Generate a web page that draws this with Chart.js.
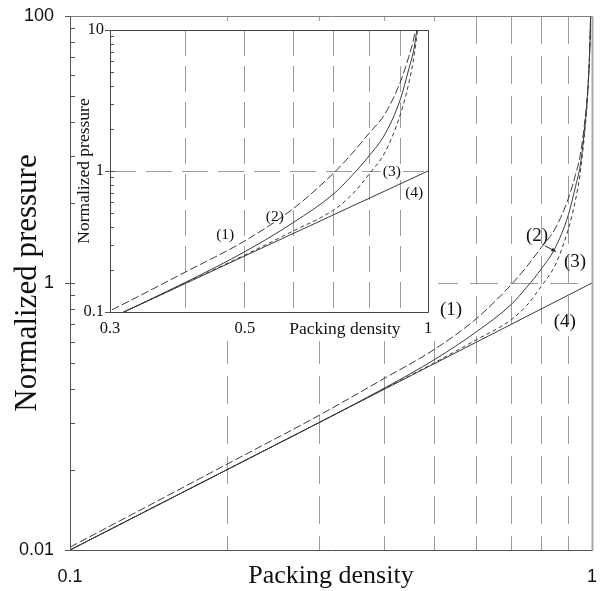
<!DOCTYPE html>
<html>
<head>
<meta charset="utf-8">
<script src="https://cdn.jsdelivr.net/npm/chart.js@4.4.0/dist/chart.umd.min.js"></script>
<style>
  html, body { margin: 0; padding: 0; background: #fff; }
  #wrap { position: relative; width: 603px; height: 591px; overflow: hidden; }
  #mainChart { position: absolute; left: 0; top: 0; }
  #insetBox { position: absolute; left: 75px; top: 21px; width: 363px; height: 320px; background: #fff; }
</style>
</head>
<body>
<div id="wrap">
  <canvas id="mainChart" width="603" height="591"></canvas>
  <div id="insetBox"><canvas id="insetChart" width="363" height="320"></canvas></div>
</div>
<script>
// packing density samples and the normalized pressure of each model
const density = [0.1, 0.2, 0.3, 0.4, 0.5, 0.6, 0.7, 0.75, 0.8, 0.85, 0.9, 0.93, 0.95, 0.97, 0.98, 0.99, 0.994];
const pressure1 = [0.0105, 0.044, 0.102, 0.193, 0.32, 0.54, 0.97, 1.33, 1.85, 2.55, 4.25, 6.5, 9.2, 17, 26, 57, 100];
const pressure2 = [0.01, 0.04, 0.09, 0.163, 0.268, 0.43, 0.69, 0.93, 1.28, 1.83, 3.2, 5.3, 7.7, 15.5, 25, 55, 100];
const pressure3 = [0.01, 0.04, 0.09, 0.161, 0.254, 0.375, 0.53, 0.68, 0.95, 1.36, 2.5, 4.2, 6.8, 14.5, 24, 54, 100];
const idealDensity = [0.1, 0.3, 0.5, 1];
const idealPressure = [0.01, 0.09, 0.25, 1];

// axis ticks
const mainXTicks = [0.1, 0.2, 0.3, 0.4, 0.5, 0.6, 0.7, 0.8, 0.9, 1];
const mainXLabels = [0.1, 1];
const mainYTicks = [0.01, 0.04, 0.09, 0.16, 0.25, 0.36, 0.49, 0.64, 0.81, 1, 4, 9, 16, 25, 36, 49, 64, 81, 100];
const mainYLabels = [0.01, 1, 100];
const insetXTicks = [0.3, 0.4, 0.5, 0.6, 0.7, 0.8, 0.9, 1];
const insetXLabels = [0.3, 0.5, 1];
const insetYTicks = [0.1, 0.2, 0.3, 0.4, 0.5, 0.6, 0.7, 0.8, 0.9, 1, 2, 3, 4, 5, 6, 7, 8, 9, 10];
const insetYLabels = [0.1, 1, 10];

const SERIF = '"Liberation Serif", "Times New Roman", serif';
const SANS = '"Liberation Sans", Arial, sans-serif';
const INK = '#111';
const GRID = '#9c9c9c';
const NONE = 'rgba(0,0,0,0)';

function curves() {
  const pts = (xs, ys) => xs.map((x, i) => ({ x: x, y: ys[i] }));
  return [
    { data: pts(density, pressure1), borderDash: [8, 3] },
    { data: pts(density, pressure2) },
    { data: pts(density, pressure3), borderDash: [4, 3] },
    { data: pts(idealDensity, idealPressure) }
  ].map(d => Object.assign({
    borderColor: '#3a3a3a',
    borderWidth: 1,
    pointRadius: 0,
    fill: false,
    cubicInterpolationMode: 'monotone'
  }, d));
}

// axis frame and inward tick marks on the y axis
const frame = {
  id: 'frame',
  afterDraw(chart, args, o) {
    const { ctx, chartArea: a, scales } = chart;
    ctx.save();
    ctx.strokeStyle = o.tickColor;
    ctx.lineWidth = 1;
    scales.y.ticks.forEach(t => {
      const y = Math.round(scales.y.getPixelForValue(t.value)) + 0.5;
      const major = o.majorY.includes(t.value);
      ctx.beginPath();
      ctx.moveTo(a.left - (major ? o.majorOut : 0), y);
      ctx.lineTo(a.left + (major ? o.majorIn : o.minorIn), y);
      ctx.stroke();
    });
    const side = (s, x1, y1, x2, y2) => {
      ctx.strokeStyle = s.color;
      ctx.lineWidth = s.width;
      ctx.beginPath();
      ctx.moveTo(x1, y1);
      ctx.lineTo(x2, y2);
      ctx.stroke();
    };
    const L = Math.round(a.left) + 0.5, R = Math.round(a.right) + 0.5;
    const T = Math.round(a.top) + 0.5, B = Math.round(a.bottom) + 0.5;
    side(o.top, L, T, R, T);
    side(o.right, R, T, R, B);
    side(o.bottom, L, B, R, B);
    side(o.left, L, T, L, B);
    ctx.restore();
  }
};

// curve labels, pointer arrow and in-plot axis caption
const notes = {
  id: 'notes',
  afterDraw(chart, args, o) {
    const { ctx, chartArea: a, scales: { x, y } } = chart;
    ctx.save();
    ctx.fillStyle = INK;
    ctx.textAlign = 'center';
    ctx.textBaseline = 'middle';
    ctx.font = o.font;
    o.labels.forEach(l => {
      const px = x.getPixelForValue(l.x), py = y.getPixelForValue(l.y);
      if (l.clear) {
        const w = ctx.measureText(l.text).width + 4;
        ctx.fillStyle = '#fff';
        ctx.fillRect(px - w / 2, py - 8, w, 16);
        ctx.fillStyle = INK;
      }
      ctx.fillText(l.text, px, py);
    });
    if (o.arrow) {
      const x1 = x.getPixelForValue(o.arrow.from.x), y1 = y.getPixelForValue(o.arrow.from.y);
      const x2 = x.getPixelForValue(o.arrow.to.x), y2 = y.getPixelForValue(o.arrow.to.y);
      const ang = Math.atan2(y2 - y1, x2 - x1);
      ctx.strokeStyle = '#222';
      ctx.lineWidth = 1;
      ctx.beginPath();
      ctx.moveTo(x1, y1);
      ctx.lineTo(x2, y2);
      ctx.stroke();
      ctx.beginPath();
      ctx.moveTo(x2, y2);
      ctx.lineTo(x2 - 5 * Math.cos(ang - 0.4), y2 - 5 * Math.sin(ang - 0.4));
      ctx.lineTo(x2 - 5 * Math.cos(ang + 0.4), y2 - 5 * Math.sin(ang + 0.4));
      ctx.closePath();
      ctx.fillStyle = '#222';
      ctx.fill();
    }
    if (o.caption) {
      ctx.fillStyle = INK;
      ctx.font = o.caption.font;
      ctx.fillText(o.caption.text, x.getPixelForValue(o.caption.x), a.bottom + o.caption.dy);
    }
    ctx.restore();
  }
};

function logAxis(cfg) {
  return {
    type: 'logarithmic',
    min: cfg.min,
    max: cfg.max,
    afterBuildTicks: s => { s.ticks = cfg.ticks.map(v => ({ value: v })); },
    afterFit: s => {
      cfg.fit(s);
      // labels may overhang the plot edges; keep the plot box fixed
      s.paddingTop = s.paddingBottom = s.paddingLeft = s.paddingRight = 0;
    },
    ticks: {
      autoSkip: false,
      maxRotation: 0,
      padding: cfg.pad,
      font: cfg.font,
      color: INK,
      callback: v => cfg.labels.includes(v) ? String(v) : ''
    },
    grid: {
      drawTicks: false,
      lineWidth: 1,
      color: c => c.tick && cfg.grid.includes(c.tick.value) ? GRID : NONE
    },
    border: { display: false, dash: cfg.dash },
    title: cfg.title
  };
}

new Chart(document.getElementById('mainChart'), {
  type: 'line',
  data: { datasets: curves() },
  options: {
    responsive: false,
    animation: false,
    events: [],
    layout: { padding: { top: 16, right: 11, left: 0, bottom: 0 } },
    plugins: {
      legend: { display: false },
      tooltip: { enabled: false },
      frame: {
        tickColor: '#555', majorY: mainYLabels, majorOut: 5, majorIn: 7, minorIn: 5,
        top: { color: '#808080', width: 1 },
        right: { color: '#a8a8a8', width: 2 },
        bottom: { color: '#555', width: 1 },
        left: { color: '#555', width: 1 }
      },
      notes: {
        font: '19px ' + SERIF,
        labels: [
          { text: '(1)', x: 0.537, y: 0.63 },
          { text: '(2)', x: 0.785, y: 2.25 },
          { text: '(3)', x: 0.928, y: 1.44 },
          { text: '(4)', x: 0.887, y: 0.51 }
        ],
        arrow: { from: { x: 0.812, y: 1.9 }, to: { x: 0.853, y: 1.72 } }
      }
    },
    scales: {
      x: logAxis({
        min: 0.1, max: 1, ticks: mainXTicks, labels: mainXLabels,
        grid: [0.2, 0.3, 0.4, 0.5, 0.6, 0.7, 0.8, 0.9], dash: [28, 12], pad: 16,
        font: { family: SANS, size: 18 },
        fit: s => { s.height = 41; },
        title: { display: true, text: 'Packing density', color: INK, font: { family: SERIF, size: 26 }, padding: { top: 0, bottom: -1 } }
      }),
      y: logAxis({
        min: 0.01, max: 100, ticks: mainYTicks, labels: mainYLabels,
        grid: [1], dash: [28, 12], pad: 16,
        font: { family: SANS, size: 18 },
        fit: s => { s.width = 70; },
        title: { display: true, text: 'Normalized pressure', color: INK, font: { family: SERIF, size: 31 }, padding: { top: 9, bottom: 0 } }
      })
    }
  },
  plugins: [frame, notes]
});

new Chart(document.getElementById('insetChart'), {
  type: 'line',
  data: { datasets: curves() },
  options: {
    responsive: false,
    animation: false,
    events: [],
    layout: { padding: { top: 9, right: 10, left: 0, bottom: 0 } },
    plugins: {
      legend: { display: false },
      tooltip: { enabled: false },
      frame: {
        tickColor: '#555', majorY: insetYLabels, majorOut: 5, majorIn: 5, minorIn: 4,
        top: { color: '#444', width: 1 },
        right: { color: '#444', width: 1 },
        bottom: { color: '#444', width: 1 },
        left: { color: '#444', width: 1 }
      },
      notes: {
        font: '15.5px ' + SERIF,
        labels: [
          { text: '(1)', x: 0.464, y: 0.351 },
          { text: '(2)', x: 0.56, y: 0.472 },
          { text: '(3)', x: 0.872, y: 0.984, clear: true },
          { text: '(4)', x: 0.949, y: 0.70 }
        ],
        caption: { text: 'Packing density', x: 0.73, dy: 17, font: '17.5px ' + SERIF }
      }
    },
    scales: {
      x: logAxis({
        min: 0.3, max: 1, ticks: insetXTicks, labels: insetXLabels,
        grid: [0.4, 0.5, 0.6, 0.7, 0.8, 0.9], dash: [26, 10], pad: 7,
        font: { family: SERIF, size: 16.5 },
        fit: s => { s.height = 29; },
        title: { display: false }
      }),
      y: logAxis({
        min: 0.1, max: 10, ticks: insetYTicks, labels: insetYLabels,
        grid: [1], dash: [26, 10], pad: 6,
        font: { family: SERIF, size: 16.5 },
        fit: s => { s.width = 35; },
        title: { display: true, text: 'Normalized pressure', color: INK, font: { family: SERIF, size: 17.5 }, padding: { top: -1, bottom: 0 } }
      })
    }
  },
  plugins: [frame, notes]
});
</script>
</body>
</html>
